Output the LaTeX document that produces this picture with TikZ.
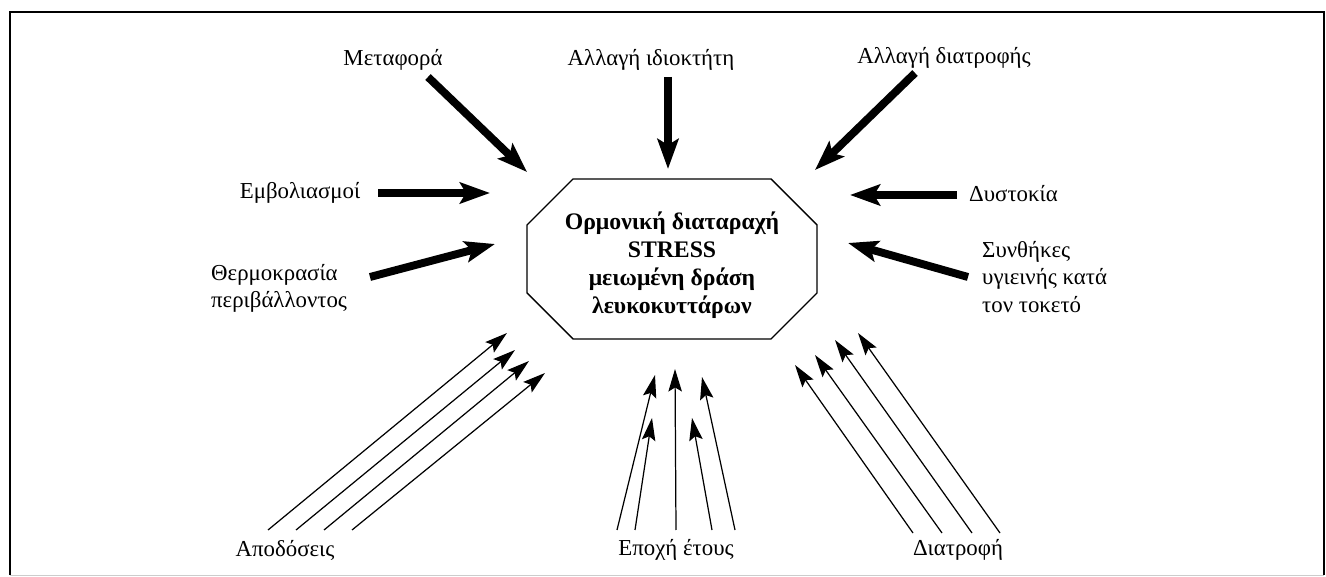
\documentclass[tikz,border=0pt]{standalone}
\usepackage{fontspec}
\setmainfont{Liberation Serif}
\usetikzlibrary{arrows.meta}
\tikzset{
  cause/.style={font=\fontsize{13}{15.5}\selectfont},
  heavy/.style={line width=4.5pt,-{Stealth[length=0.6cm,width=0.42cm,inset=0.12cm]}},
  slim/.style={line width=0.7pt,-{Stealth[length=0.45cm,width=0.27cm,inset=0.08cm]}}
}
\begin{document}
\begin{tikzpicture}[x=0.02cm,y=-0.02cm]
  \useasboundingbox (0,0) rectangle (1326,577);
  % frame
  \draw[line width=1.2pt] (10,575) -- (10,12) -- (1324,12) -- (1324,575);
  \draw[gray!40] (10,575) -- (1324,575);
  % central octagon
  \draw[line width=0.8pt] (573,179) -- (771,179) -- (817,225) -- (817,293)
    -- (771,339) -- (573,339) -- (527,293) -- (527,225) -- cycle;
  \node[font=\fontsize{13.5}{15.9}\selectfont\bfseries, align=center] (core) at (672,265)
    {Ορμονική διαταραχή\\STRESS\\μειωμένη δράση\\λευκοκυττάρων};
  % labels
  \node[cause] (transport) at (393,60) {Μεταφορά};
  \node[cause] (owner) at (651,60) {Αλλαγή ιδιοκτήτη};
  \node[cause] (dietchange) at (944,58) {Αλλαγή διατροφής};
  \node[cause] (vaccines) at (300,193) {Εμβολιασμοί};
  \node[cause, align=left, anchor=west] (temperature) at (205,288) {Θερμοκρασία\\περιβάλλοντος};
  \node[cause, anchor=west] (dystocia) at (963,194) {Δυστοκία};
  \node[cause, align=left, anchor=west] (hygiene) at (976,277) {Συνθήκες\\υγιεινής κατά\\τον τοκετό};
  \node[cause] (yields) at (285,550) {Αποδόσεις};
  \node[cause] (season) at (676,550) {Εποχή έτους};
  \node[cause] (nutrition) at (958,550) {Διατροφή};
  % arrow ends
  \coordinate (t1) at (428,77);  \coordinate (h1) at (527,172);
  \coordinate (t2) at (668,77);  \coordinate (h2) at (668,169);
  \coordinate (t3) at (915,73);  \coordinate (h3) at (815,170);
  \coordinate (t4) at (378,193); \coordinate (h4) at (490,193);
  \coordinate (t5) at (370,277); \coordinate (h5) at (495,244);
  \coordinate (t6) at (957,195); \coordinate (h6) at (850,195);
  \coordinate (t7) at (968,277); \coordinate (h7) at (848,243);
  \coordinate (a1) at (268,530); \coordinate (b1) at (507,333);
  \coordinate (a2) at (296,530); \coordinate (b2) at (515,350);
  \coordinate (a3) at (324,530); \coordinate (b3) at (529,361);
  \coordinate (a4) at (352,530); \coordinate (b4) at (545,373);
  \coordinate (c1) at (617,530); \coordinate (d1) at (655,375);
  \coordinate (c2) at (635,530); \coordinate (d2) at (652,418);
  \coordinate (c3) at (676,530); \coordinate (d3) at (675,369);
  \coordinate (c4) at (712,530); \coordinate (d4) at (692,418);
  \coordinate (c5) at (735,530); \coordinate (d5) at (702,377);
  \coordinate (e1) at (913,533); \coordinate (f1) at (795,365);
  \coordinate (e2) at (942,533); \coordinate (f2) at (815,355);
  \coordinate (e3) at (972,533); \coordinate (f3) at (835,340);
  \coordinate (e4) at (1000,533); \coordinate (f4) at (858,333);
  \begin{scope}[heavy]
    \draw (t1) to (h1);
    \draw (t2) to (h2);
    \draw (t3) to (h3);
    \draw (t4) to (h4);
    \draw (t5) to (h5);
    \draw (t6) to (h6);
    \draw (t7) to (h7);
  \end{scope}
  \begin{scope}[slim]
    \draw (a1) to (b1);
    \draw (a2) to (b2);
    \draw (a3) to (b3);
    \draw (a4) to (b4);
    \draw (c1) to (d1);
    \draw (c2) to (d2);
    \draw (c3) to (d3);
    \draw (c4) to (d4);
    \draw (c5) to (d5);
    \draw (e1) to (f1);
    \draw (e2) to (f2);
    \draw (e3) to (f3);
    \draw (e4) to (f4);
  \end{scope}
\end{tikzpicture}
\end{document}
